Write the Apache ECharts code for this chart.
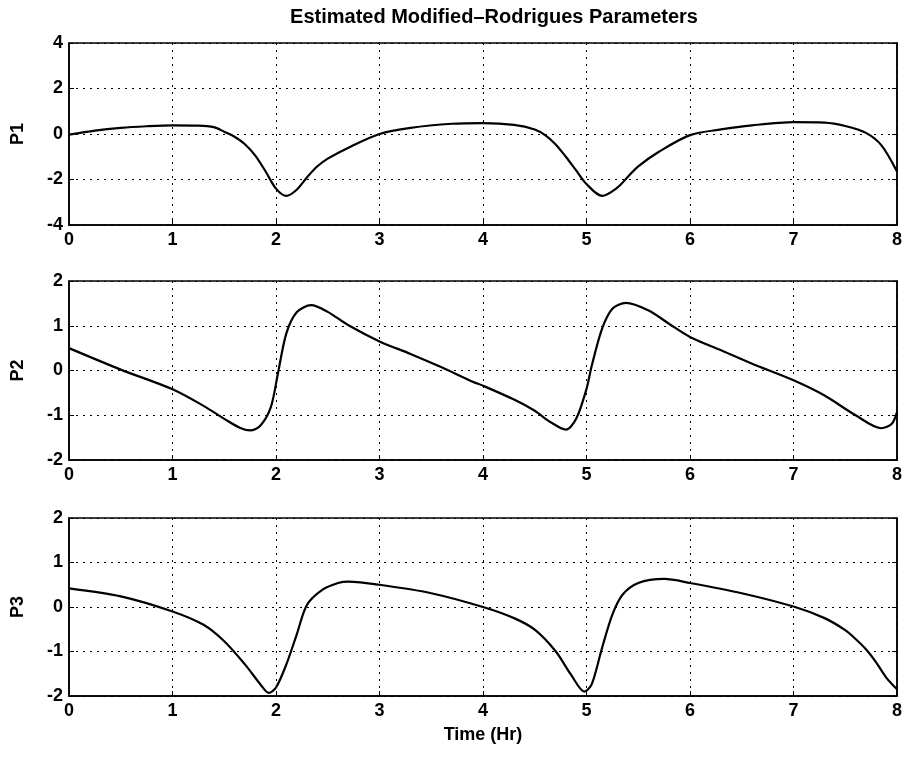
<!DOCTYPE html>
<html>
<head>
<meta charset="utf-8">
<script src="https://cdn.jsdelivr.net/npm/echarts@6/dist/echarts.min.js"></script>
<style>html,body{margin:0;padding:0;background:#fff}#c{width:909px;height:757px}</style>
</head>
<body>
<div id="c"></div>
<script>
var titleText = 'Estimated Modified\u2013Rodrigues Parameters';
var xLabel = 'Time (Hr)';
var names = ['P1', 'P2', 'P3'];

var t1 = [0, 0.25, 0.5, 0.75, 1.0, 1.25, 1.4, 1.5, 1.6, 1.7, 1.8, 1.9, 2.0, 2.1, 2.2, 2.3, 2.4, 2.5, 2.7, 3.0, 3.3, 3.7, 4.0, 4.3, 4.5, 4.6, 4.7, 4.8, 4.9, 5.0, 5.15, 5.3, 5.4, 5.5, 5.7, 6.0, 6.3, 6.6, 7.0, 7.3, 7.5, 7.7, 7.85, 8.0];
var p1 = [-0.03, 0.15, 0.27, 0.34, 0.38, 0.37, 0.3, 0.1, -0.12, -0.45, -0.95, -1.65, -2.4, -2.72, -2.45, -1.9, -1.42, -1.08, -0.6, 0.0, 0.27, 0.45, 0.48, 0.4, 0.2, -0.05, -0.45, -1.0, -1.6, -2.2, -2.72, -2.35, -1.88, -1.42, -0.78, -0.05, 0.2, 0.38, 0.52, 0.5, 0.35, 0.05, -0.5, -1.65];

var t2 = [0, 0.5, 1.0, 1.3, 1.5, 1.65, 1.75, 1.85, 1.95, 2.02, 2.1, 2.2, 2.34, 2.5, 2.7, 3.0, 3.3, 3.6, 3.9, 4.0, 4.3, 4.5, 4.65, 4.8, 4.9, 5.0, 5.05, 5.15, 5.25, 5.38, 5.6, 5.8, 6.0, 6.3, 6.6, 7.0, 7.3, 7.6, 7.85, 7.95, 8.0];
var p2 = [0.5, 0.02, -0.42, -0.79, -1.08, -1.28, -1.34, -1.23, -0.82, -0.05, 0.83, 1.3, 1.46, 1.31, 1.01, 0.65, 0.37, 0.07, -0.25, -0.34, -0.65, -0.9, -1.15, -1.32, -1.08, -0.41, 0.1, 0.93, 1.38, 1.51, 1.34, 1.04, 0.75, 0.45, 0.15, -0.22, -0.56, -1.0, -1.29, -1.19, -0.93];

var t3 = [0, 0.5, 1.0, 1.3, 1.5, 1.7, 1.85, 1.93, 2.0, 2.1, 2.2, 2.3, 2.45, 2.6, 2.7, 3.0, 3.5, 4.0, 4.3, 4.5, 4.7, 4.85, 4.98, 5.05, 5.15, 5.25, 5.35, 5.5, 5.75, 6.0, 6.5, 7.0, 7.3, 7.5, 7.6, 7.7, 7.8, 7.9, 8.0];
var p3 = [0.42, 0.24, -0.1, -0.4, -0.77, -1.29, -1.74, -1.93, -1.81, -1.29, -0.62, 0.05, 0.39, 0.54, 0.57, 0.5, 0.31, 0.0, -0.25, -0.51, -0.99, -1.52, -1.9, -1.74, -0.92, -0.17, 0.28, 0.54, 0.63, 0.54, 0.31, 0.01, -0.25, -0.52, -0.72, -0.95, -1.25, -1.6, -1.85];

var yRanges = [[-4, 4, 2], [-2, 2, 1], [-2, 2, 1]];
var xRange = [0, 8, 1];

var ts = [t1, t2, t3];
var ps = [p1, p2, p3];
function pairs(t, p) { return t.map(function (x, i) { return [x, p[i]]; }); }

var font = 'Liberation Sans, Arial, sans-serif';
var grids = [
  {left: 69, right: 12, top: 43, height: 182},
  {left: 69, right: 12, top: 281, height: 179},
  {left: 69, right: 12, top: 518, height: 178}
];
var xAxes = [], yAxes = [], series = [];
var dotted = {color: '#000', type: [2, 5], width: 1};
for (var i = 0; i < 3; i++) {
  grids[i].show = true;
  grids[i].borderColor = '#000';
  grids[i].borderWidth = 1.5;
  grids[i].containLabel = false;
  xAxes.push({
    type: 'value', gridIndex: i, min: xRange[0], max: xRange[1], interval: xRange[2],
    name: i === 2 ? xLabel : '', nameLocation: 'middle', nameGap: 30,
    nameTextStyle: {color: '#000', fontSize: 18, fontWeight: 'bold', fontFamily: font},
    axisLine: {show: true, onZero: false, lineStyle: {color: '#000', width: 1.5}},
    axisTick: {show: true, inside: true, length: 5, lineStyle: {color: '#000'}},
    axisLabel: {color: '#000', fontSize: 18, fontWeight: 'bold', fontFamily: font, margin: 6},
    splitLine: {show: true, lineStyle: dotted}
  });
  yAxes.push({
    type: 'value', gridIndex: i, min: yRanges[i][0], max: yRanges[i][1], interval: yRanges[i][2],
    name: names[i], nameLocation: 'middle', nameGap: 42, nameRotate: 90,
    nameTextStyle: {color: '#000', fontSize: 18, fontWeight: 'bold', fontFamily: font},
    axisLine: {show: true, onZero: false, lineStyle: {color: '#000', width: 1.5}},
    axisTick: {show: true, inside: true, length: 5, lineStyle: {color: '#000'}},
    axisLabel: {color: '#000', fontSize: 18, fontWeight: 'bold', fontFamily: font, margin: 6},
    splitLine: {show: true, lineStyle: dotted}
  });
  series.push({
    type: 'line', xAxisIndex: i, yAxisIndex: i, data: pairs(ts[i], ps[i]),
    showSymbol: false, smooth: 0.3,
    lineStyle: {color: '#000', width: 2.2}, animation: false
  });
}
// mirrored right-side ticks (inside), no labels
for (var j = 0; j < 3; j++) {
  yAxes.push({
    type: 'value', gridIndex: j, position: 'right', min: yRanges[j][0], max: yRanges[j][1], interval: yRanges[j][2],
    axisLine: {show: true, onZero: false, lineStyle: {color: '#000', width: 1.5}},
    axisTick: {show: true, inside: true, length: 5, lineStyle: {color: '#000'}},
    axisLabel: {show: false}, splitLine: {show: false}
  });
}

var chart = echarts.init(document.getElementById('c'), null, {renderer: 'canvas'});
chart.setOption({
  backgroundColor: '#fff',
  animation: false,
  title: {
    text: titleText, left: 489, top: 2, textAlign: 'center',
    textStyle: {color: '#000', fontSize: 20, fontWeight: 'bold', fontFamily: font}
  },
  grid: grids,
  xAxis: xAxes,
  yAxis: yAxes,
  series: series
});
</script>
</body>
</html>
